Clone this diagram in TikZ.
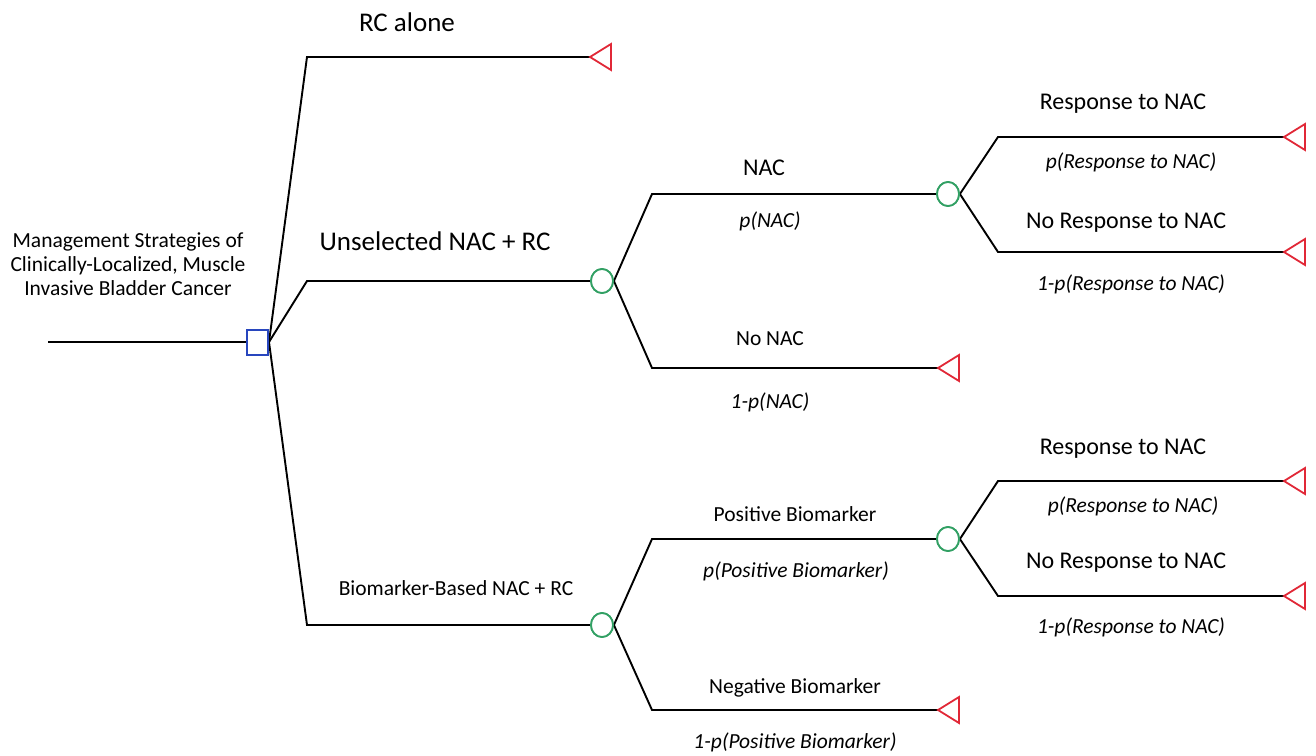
\documentclass[tikz,border=0pt]{standalone}
\usepackage{fontspec}
\setmainfont{Carlito}
\usetikzlibrary{shapes.geometric}
\definecolor{decblue}{RGB}{40,70,190}
\definecolor{chgreen}{RGB}{50,160,100}
\definecolor{termred}{RGB}{225,40,55}
\tikzset{
  branch/.style={line width=1.9pt, black},
  decnode/.style={draw=decblue, line width=2pt, rectangle, minimum width=21pt, minimum height=25pt, inner sep=0pt, fill=white},
  chnode/.style={draw=chgreen, line width=1.8pt, ellipse, minimum width=22pt, minimum height=24pt, inner sep=0pt, fill=white},
  termtri/.style={draw=termred, line width=1.8pt, line join=miter},
  bigtxt/.style={font=\fontsize{27}{32}\selectfont, inner sep=0pt},
  midtxt/.style={font=\fontsize{24}{28}\selectfont, inner sep=0pt},
  smalltxt/.style={font=\fontsize{21.5}{24}\selectfont, inner sep=0pt},
  probtxt/.style={font=\fontsize{21.5}{24}\selectfont\itshape, inner sep=0pt},
}
\begin{document}
\begin{tikzpicture}[x=1pt,y=-1pt]
\useasboundingbox (0,0) rectangle (1316,755);
% nodes
\coordinate (start) at (48,342);
\node[decnode] (d) at (257.5,342) {};
\node[chnode] (c1) at (602,281) {};
\node[chnode] (c2) at (602,625) {};
\node[chnode] (c3) at (948,194) {};
\node[chnode] (c4) at (948,539) {};
% terminal tips
\coordinate (t1) at (590,57);
\coordinate (t2) at (938,368);
\coordinate (t3) at (1284,137);
\coordinate (t4) at (1284,252);
\coordinate (t5) at (938,710);
\coordinate (t6) at (1284,481);
\coordinate (t7) at (1284,596);
% corners
\coordinate (k1) at (307,57);
\coordinate (k2) at (307,281);
\coordinate (k3) at (307,625);
\coordinate (k4) at (652,194);
\coordinate (k5) at (652,368);
\coordinate (k6) at (652,539);
\coordinate (k7) at (652,710);
\coordinate (k8) at (998,137);
\coordinate (k9) at (998,252);
\coordinate (k10) at (998,481);
\coordinate (k11) at (998,596);
% connectors
\draw[branch] (start) -- (d.west);
\draw[branch] (d.east) -- (k1) -- (t1);
\draw[branch] (d.east) -- (k2) -- (c1.west);
\draw[branch] (d.east) -- (k3) -- (c2.west);
\draw[branch] (c1.east) -- (k4) -- (c3.west);
\draw[branch] (c1.east) -- (k5) -- (t2);
\draw[branch] (c2.east) -- (k6) -- (c4.west);
\draw[branch] (c2.east) -- (k7) -- (t5);
\draw[branch] (c3.east) -- (k8) -- (t3);
\draw[branch] (c3.east) -- (k9) -- (t4);
\draw[branch] (c4.east) -- (k10) -- (t6);
\draw[branch] (c4.east) -- (k11) -- (t7);
% redraw nodes on top
\node[decnode] at (d) {};
\foreach \c in {c1,c2,c3,c4} {\node[chnode] at (\c) {};}
% terminals
\foreach \t in {t1,t2,t3,t4,t5,t6,t7} {
  \draw[termred, termtri] (\t) -- ++(21,-13) -- ++(0,26) -- cycle;
}
% labels
\node[bigtxt] (l1) at (407,22) {RC alone};
\node[bigtxt] (l2) at (435,241) {Unselected NAC + RC};
\node[smalltxt] (l3) at (456,588) {Biomarker-Based NAC + RC};
\node[smalltxt, align=center, font=\fontsize{21.5}{24}\selectfont] (l0) at (128,264) {Management Strategies of\\Clinically-Localized, Muscle\\Invasive Bladder Cancer};
\node[midtxt] (l4) at (764,168) {NAC};
\node[probtxt] (p4) at (770,221) {p(NAC)};
\node[smalltxt] (l5) at (770,339) {No NAC};
\node[probtxt] (p5) at (770,402) {1-p(NAC)};
\node[midtxt] (l6) at (1123,104) {Response to NAC};
\node[probtxt] (p6) at (1131,162) {p(Response to NAC)};
\node[midtxt] (l7) at (1126,223) {No Response to NAC};
\node[probtxt] (p7) at (1131,284) {1-p(Response to NAC)};
\node[smalltxt] (l8) at (795,514) {Positive Biomarker};
\node[probtxt] (p8) at (796,571) {p(Positive Biomarker)};
\node[smalltxt] (l9) at (795,688) {Negative Biomarker};
\node[probtxt] (p9) at (795,742) {1-p(Positive Biomarker)};
\node[midtxt] (l10) at (1123,449) {Response to NAC};
\node[probtxt] (p10) at (1133,506) {p(Response to NAC)};
\node[midtxt] (l11) at (1126,563) {No Response to NAC};
\node[probtxt] (p11) at (1131,627) {1-p(Response to NAC)};
\end{tikzpicture}
\end{document}
